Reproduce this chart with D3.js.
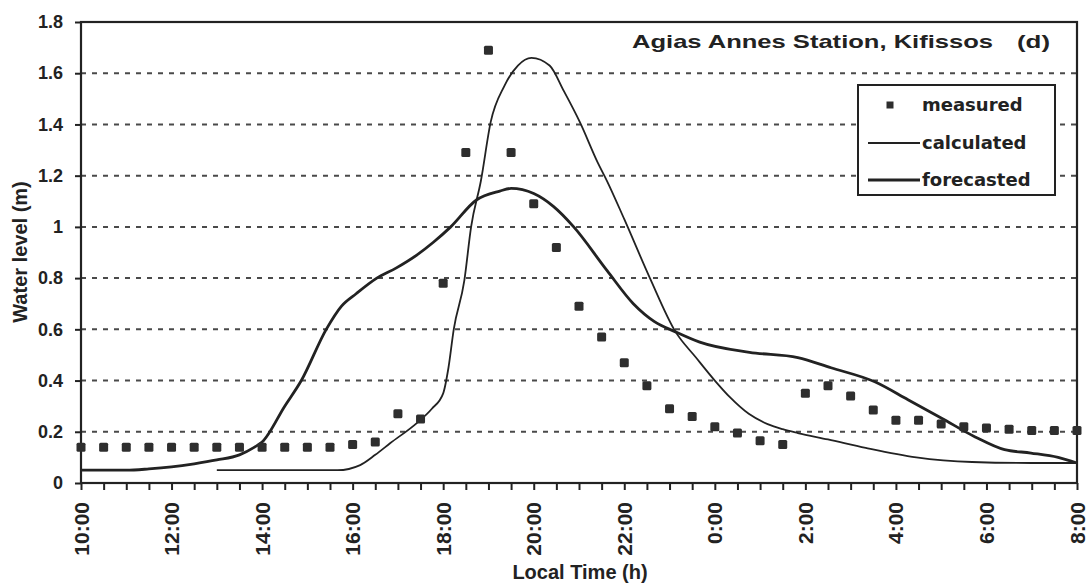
<!DOCTYPE html>
<html>
<head>
<meta charset="utf-8">
<script src="https://cdn.jsdelivr.net/npm/d3@7"></script>
<style>
  body { margin: 0; background: #fff; }
  svg { display: block; }
</style>
</head>
<body>
<svg id="chart" width="1090" height="586"></svg>
<script>
// Water level at Agias Annes station, Kifissos: measured, calculated and forecasted
const measuredTimes = ["10:00","10:30","11:00","11:30","12:00","12:30","13:00","13:30","14:00","14:30",
  "15:00","15:30","16:00","16:30","17:00","17:30","18:00","18:30","19:00","19:30",
  "20:00","20:30","21:00","21:30","22:00","22:30","23:00","23:30","0:00","0:30",
  "1:00","1:30","2:00","2:30","3:00","3:30","4:00","4:30","5:00","5:30",
  "6:00","6:30","7:00","7:30","8:00"];
const measuredLevels = [0.14,0.14,0.14,0.14,0.14,0.14,0.14,0.14,0.14,0.14,
  0.14,0.14,0.15,0.16,0.27,0.25,0.78,1.29,1.69,1.29,
  1.09,0.92,0.69,0.57,0.47,0.38,0.29,0.26,0.22,0.195,
  0.165,0.15,0.35,0.38,0.34,0.285,0.245,0.245,0.23,0.22,
  0.215,0.21,0.205,0.205,0.205];

const calculatedTimes = ["13:00","14:00","15:00","15:40","16:10","16:30","16:50","17:25","17:45","18:00",
  "18:07","18:14","18:28","18:37","18:50","19:03","19:21","19:39","19:57","20:21",
  "20:40","21:01","21:25","21:37","22:00","22:34","23:08","23:35","0:00","0:20",
  "0:45","1:10","1:30","1:50","2:30","3:20","4:27","5:41","7:00","8:00"];
const calculatedLevels = [0.05,0.05,0.05,0.05,0.07,0.11,0.156,0.234,0.29,0.35,
  0.45,0.60,0.79,1.0,1.18,1.41,1.55,1.63,1.66,1.63,
  1.53,1.41,1.25,1.18,1.03,0.80,0.59,0.49,0.40,0.335,
  0.27,0.23,0.21,0.195,0.17,0.137,0.10,0.082,0.078,0.078];

const forecastTimes = ["10:00","11:00","11:30","12:00","12:30","13:00","13:30","13:50","14:00","14:30",
  "14:52","15:25","15:45","16:05","16:32","16:58","17:25","17:47","18:10","18:44",
  "19:15","19:30","20:00","20:26","20:53","21:37","22:12","22:40","23:08","23:40",
  "0:46","1:50","2:34","3:32","4:16","5:00","5:45","6:24","6:59","7:35","8:00"];
const forecastLevels = [0.05,0.05,0.055,0.063,0.075,0.09,0.11,0.14,0.16,0.30,
  0.40,0.60,0.69,0.74,0.80,0.84,0.89,0.94,1.00,1.105,
  1.14,1.15,1.13,1.08,1.0,0.83,0.70,0.63,0.59,0.55,
  0.51,0.49,0.45,0.395,0.325,0.254,0.18,0.13,0.117,0.10,0.078];

const xTickLabels = ["10:00","12:00","14:00","16:00","18:00","20:00","22:00","0:00","2:00","4:00","6:00","8:00"];
const yTickValues = [0,0.2,0.4,0.6,0.8,1,1.2,1.4,1.6,1.8];
const seriesNames = ["measured","calculated","forecasted"];

// clock time -> hours since 0:00 of the first day (times before 10:00 fall on the next day)
function toHours(t) {
  const [h, m] = t.split(":").map(Number);
  const v = h + m / 60;
  return v < 10 ? v + 24 : v;
}

const svg = d3.select("#chart");
const plotLeft = 81, plotRight = 1077, plotTop = 22, plotBottom = 483;

const x = d3.scaleLinear().domain([toHours("10:00"), toHours("8:00")]).range([plotLeft, plotRight]);
const y = d3.scaleLinear().domain([0, 1.8]).range([plotBottom, plotTop]);

const ink = "#222";
const font = "'Liberation Sans', Arial, sans-serif";

// horizontal dashed gridlines
svg.append("g")
  .selectAll("line")
  .data(yTickValues.filter(v => v > 0 && v < 1.8))
  .join("line")
  .attr("x1", plotLeft).attr("x2", plotRight)
  .attr("y1", d => y(d)).attr("y2", d => y(d))
  .attr("stroke", "#4a4a4a")
  .attr("stroke-width", 2)
  .attr("stroke-dasharray", "5,6");

// half-hour ticks along the time axis
const halfHours = d3.range(toHours("10:00"), toHours("8:00") + 0.01, 0.5);
const xAxis = d3.axisBottom(x)
  .tickValues(halfHours)
  .tickSize(7)
  .tickFormat("");
const gx = svg.append("g").attr("transform", `translate(0,${plotBottom})`).call(xAxis);
gx.select(".domain").remove();
gx.selectAll(".tick line").attr("stroke", ink).attr("stroke-width", 2);

// y axis ticks and labels
const yAxis = d3.axisLeft(y)
  .tickValues(yTickValues)
  .tickSize(6)
  .tickPadding(12)
  .tickFormat(d => d === 0 ? "0" : (Number.isInteger(d) ? String(d) : d.toFixed(1)));
const gy = svg.append("g").attr("transform", `translate(${plotLeft},0)`).call(yAxis);
gy.select(".domain").remove();
gy.selectAll(".tick line").attr("stroke", ink).attr("stroke-width", 2);
gy.selectAll(".tick text")
  .attr("fill", ink)
  .attr("font-family", font)
  .attr("font-weight", "bold")
  .attr("font-size", "18px");

// frame around the plot area
svg.append("rect")
  .attr("x", plotLeft).attr("y", plotTop)
  .attr("width", plotRight - plotLeft).attr("height", plotBottom - plotTop)
  .attr("fill", "none")
  .attr("stroke", ink)
  .attr("stroke-width", 2.2);

// rotated time labels every two hours
svg.append("g")
  .selectAll("text")
  .data(xTickLabels)
  .join("text")
  .attr("transform", d => `translate(${x(toHours(d))},502) rotate(-90)`)
  .attr("text-anchor", "end")
  .attr("dy", "0.36em")
  .attr("fill", ink)
  .attr("font-family", font)
  .attr("font-weight", "bold")
  .attr("font-size", "21px")
  .text(d => d);

// lines
const lineGen = d3.line()
  .x(d => x(d.t))
  .y(d => y(d.v))
  .curve(d3.curveMonotoneX);

const calcData = calculatedTimes.map((t, i) => ({ t: toHours(t), v: calculatedLevels[i] }));
const foreData = forecastTimes.map((t, i) => ({ t: toHours(t), v: forecastLevels[i] }));

svg.append("path")
  .datum(foreData)
  .attr("d", lineGen)
  .attr("fill", "none")
  .attr("stroke", ink)
  .attr("stroke-width", 2.8)
  .attr("stroke-linejoin", "round");

svg.append("path")
  .datum(calcData)
  .attr("d", lineGen)
  .attr("fill", "none")
  .attr("stroke", ink)
  .attr("stroke-width", 1.8)
  .attr("stroke-linejoin", "round");

// measured points
const ms = 9;
svg.append("g")
  .selectAll("rect")
  .data(measuredTimes.map((t, i) => ({ t: toHours(t), v: measuredLevels[i] })))
  .join("rect")
  .attr("x", d => x(d.t) - ms / 2)
  .attr("y", d => y(d.v) - ms / 2)
  .attr("width", ms).attr("height", ms)
  .attr("rx", 1.5)
  .attr("fill", "#2e2e2e");

// title
svg.append("text")
  .attr("x", 632).attr("y", 48)
  .attr("fill", ink)
  .attr("font-family", font)
  .attr("font-weight", "bold")
  .attr("font-size", "19px")
  .attr("textLength", 361)
  .attr("lengthAdjust", "spacingAndGlyphs")
  .text("Agias Annes Station, Kifissos");
svg.append("text")
  .attr("x", 1017).attr("y", 48)
  .attr("fill", ink)
  .attr("font-family", font)
  .attr("font-weight", "bold")
  .attr("font-size", "19px")
  .attr("textLength", 33)
  .attr("lengthAdjust", "spacingAndGlyphs")
  .text("(d)");

// legend
const lg = svg.append("g");
lg.append("rect")
  .attr("x", 858).attr("y", 85)
  .attr("width", 197).attr("height", 110)
  .attr("fill", "#fff")
  .attr("stroke", ink)
  .attr("stroke-width", 2);
const rowY = [105, 143, 180];
lg.append("rect")
  .attr("x", 890 - 3.5).attr("y", rowY[0] - 3.5)
  .attr("width", 7).attr("height", 7)
  .attr("fill", "#2e2e2e");
lg.append("line")
  .attr("x1", 868).attr("x2", 920)
  .attr("y1", rowY[1]).attr("y2", rowY[1])
  .attr("stroke", ink).attr("stroke-width", 1.8);
lg.append("line")
  .attr("x1", 868).attr("x2", 920)
  .attr("y1", rowY[2]).attr("y2", rowY[2])
  .attr("stroke", ink).attr("stroke-width", 2.8);
lg.selectAll("text.lab")
  .data(seriesNames)
  .join("text")
  .attr("class", "lab")
  .attr("x", 922)
  .attr("y", (d, i) => rowY[i])
  .attr("dy", "0.35em")
  .attr("fill", ink)
  .attr("font-family", "'DejaVu Sans', sans-serif")
  .attr("font-weight", "bold")
  .attr("font-size", "18px")
  .text(d => d);

// axis titles
svg.append("text")
  .attr("x", 580).attr("y", 579)
  .attr("text-anchor", "middle")
  .attr("fill", ink)
  .attr("font-family", font)
  .attr("font-weight", "bold")
  .attr("font-size", "20px")
  .text("Local Time (h)");
svg.append("text")
  .attr("transform", "translate(27,252) rotate(-90)")
  .attr("text-anchor", "middle")
  .attr("fill", ink)
  .attr("font-family", font)
  .attr("font-weight", "bold")
  .attr("font-size", "20px")
  .text("Water level (m)");
</script>
</body>
</html>
